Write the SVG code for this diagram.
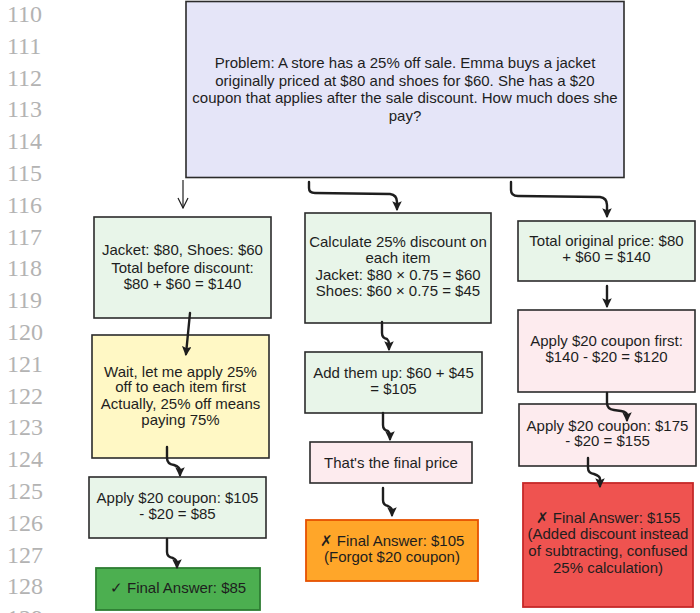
<svg xmlns="http://www.w3.org/2000/svg" width="700" height="613" viewBox="0 0 700 613">
<defs>
<marker id="ah" viewBox="0 0 10 10" refX="8" refY="5" markerWidth="4" markerHeight="4" orient="auto" markerUnits="strokeWidth">
<path d="M0,0 L10,5 L0,10 L2,5 Z" fill="#1e1e1e"/>
</marker>
<marker id="thin" viewBox="0 0 12 12" refX="11" refY="6" markerWidth="12" markerHeight="12" orient="auto" markerUnits="userSpaceOnUse">
<path d="M1,1 L11,6 L1,11" fill="none" stroke="#1e1e1e" stroke-width="1.2"/>
</marker>
</defs>
<style>
.ln{font-family:"Liberation Serif",serif;font-size:24px;fill:#b3b3b3}
.t{font-family:"Liberation Sans",Arial,sans-serif;font-size:15px;fill:#1e1e1e;text-anchor:middle}
.box{stroke:#2b2b2b;stroke-width:1.6}
.lav{fill:#e5e5f8}
.grn{fill:#e8f5e9}
.yel{fill:#fff8c5}
.pnk{fill:#fdebee}
.org{fill:#ffa629;stroke:#e65100;stroke-width:1.8}
.red{fill:#ef5350;stroke:#c62828;stroke-width:1.8}
.dgr{fill:#4caf50;stroke:#2e7d32;stroke-width:1.8}
.c{fill:none;stroke:#1e1e1e;stroke-width:2.4;stroke-linecap:round;stroke-linejoin:round}
</style>
<rect width="700" height="613" fill="#ffffff"/>
<g id="line-numbers">
<text class="ln" x="7" y="22">110</text>
<text class="ln" x="7" y="53.8">111</text>
<text class="ln" x="7" y="85.6">112</text>
<text class="ln" x="7" y="117.4">113</text>
<text class="ln" x="7" y="149.2">114</text>
<text class="ln" x="7" y="181">115</text>
<text class="ln" x="7" y="212.8">116</text>
<text class="ln" x="7" y="244.6">117</text>
<text class="ln" x="7" y="276.4">118</text>
<text class="ln" x="7" y="308.2">119</text>
<text class="ln" x="7" y="340">120</text>
<text class="ln" x="7" y="371.8">121</text>
<text class="ln" x="7" y="403.6">122</text>
<text class="ln" x="7" y="435.4">123</text>
<text class="ln" x="7" y="467.2">124</text>
<text class="ln" x="7" y="499">125</text>
<text class="ln" x="7" y="530.8">126</text>
<text class="ln" x="7" y="562.6">127</text>
<text class="ln" x="7" y="594.4">128</text>
<text class="ln" x="7" y="626.2">129</text>
</g>
<g id="problem">
<rect class="box lav" x="186" y="1.5" width="438" height="176"/>
<text class="t" x="405" y="68">Problem: A store has a 25% off sale. Emma buys a jacket</text>
<text class="t" x="405" y="85.5">originally priced at $80 and shoes for $60. She has a $20</text>
<text class="t" x="405" y="103">coupon that applies after the sale discount. How much does she</text>
<text class="t" x="405" y="120.5">pay?</text>
</g>
<g id="left-total">
<rect class="box grn" x="94" y="217" width="177" height="101"/>
<text class="t" x="182.5" y="255">Jacket: $80, Shoes: $60</text>
<text class="t" x="182.5" y="272.5">Total before discount:</text>
<text class="t" x="182.5" y="289">$80 + $60 = $140</text>
</g>
<g id="left-wait">
<rect class="box yel" x="92" y="335" width="177" height="123"/>
<text class="t" x="180.5" y="376.5">Wait, let me apply 25%</text>
<text class="t" x="180.5" y="392">off to each item first</text>
<text class="t" x="180.5" y="408.5">Actually, 25% off means</text>
<text class="t" x="180.5" y="424.5">paying 75%</text>
</g>
<g id="left-coupon">
<rect class="box grn" x="89" y="477" width="177" height="61"/>
<text class="t" x="177.5" y="502.5">Apply $20 coupon: $105</text>
<text class="t" x="177.5" y="518.5">- $20 = $85</text>
</g>
<g id="left-final">
<rect class="dgr" x="96" y="568" width="164" height="42"/>
<text class="t" x="178" y="593">✓ Final Answer: $85</text>
</g>
<g id="mid-calc">
<rect class="box grn" x="305" y="213" width="186" height="110"/>
<text class="t" x="398" y="246.5">Calculate 25% discount on</text>
<text class="t" x="398" y="263">each item</text>
<text class="t" x="398" y="279.5">Jacket: $80 × 0.75 = $60</text>
<text class="t" x="398" y="296">Shoes: $60 × 0.75 = $45</text>
</g>
<g id="mid-add">
<rect class="box grn" x="305" y="352" width="177" height="61"/>
<text class="t" x="393.5" y="377.5">Add them up: $60 + $45</text>
<text class="t" x="393.5" y="393.5">= $105</text>
</g>
<g id="mid-final-price">
<rect class="box pnk" x="310" y="442" width="162" height="41"/>
<text class="t" x="391" y="468">That's the final price</text>
</g>
<g id="mid-final">
<rect class="org" x="306" y="520" width="172" height="61"/>
<text class="t" x="392" y="545.5">✗ Final Answer: $105</text>
<text class="t" x="392" y="562">(Forgot $20 coupon)</text>
</g>
<g id="right-total">
<rect class="box grn" x="518" y="221" width="177" height="60"/>
<text class="t" x="606.5" y="245.5">Total original price: $80</text>
<text class="t" x="606.5" y="262">+ $60 = $140</text>
</g>
<g id="right-coupon-first">
<rect class="box pnk" x="518" y="310" width="177" height="82"/>
<text class="t" x="606.5" y="345.5">Apply $20 coupon first:</text>
<text class="t" x="606.5" y="361.5">$140 - $20 = $120</text>
</g>
<g id="right-coupon">
<rect class="box pnk" x="519" y="404" width="177" height="62"/>
<text class="t" x="607.5" y="430.5">Apply $20 coupon: $175</text>
<text class="t" x="607.5" y="446">- $20 = $155</text>
</g>
<g id="right-final">
<rect class="red" x="523" y="483" width="170" height="124"/>
<text class="t" x="608" y="522.5">✗ Final Answer: $155</text>
<text class="t" x="608" y="539">(Added discount instead</text>
<text class="t" x="608" y="555.5">of subtracting, confused</text>
<text class="t" x="608" y="572.5">25% calculation)</text>
</g>
<g id="connectors">
<path d="M183,180 L183,208" fill="none" stroke="#1e1e1e" stroke-width="1.2" marker-end="url(#thin)"/>
<path class="c" d="M309,182 L309,188 Q309,193 315,193 L390,194 Q397,195 397,202 L397,209" marker-end="url(#ah)"/>
<path class="c" d="M511,182 L511,190 Q511,196 518,196 L600,197 Q607,198 607,205 L607,216" marker-end="url(#ah)"/>
<path class="c" d="M607,286 L607,306" marker-end="url(#ah)"/>
<path class="c" d="M190,313 L186,354" stroke-width="2" marker-end="url(#ah)"/>
<path class="c" d="M167,447 L167,458 Q167,464 174,465 Q180,467 180,471 L180,475" marker-end="url(#ah)"/>
<path class="c" d="M167,539 L167,552 Q167,557 173,558 Q177,560 177,563 L177,567" marker-end="url(#ah)"/>
<path class="c" d="M382,322 L382,333 Q382,338 387,339 Q389,341 389,344 L389,349" marker-end="url(#ah)"/>
<path class="c" d="M383,413 L383,425 Q383,430 388,431 Q390,433 390,435 L390,439" marker-end="url(#ah)"/>
<path class="c" d="M383,488 L383,500 Q383,505 388,506 Q392,508 392,510 L392,515" marker-end="url(#ah)"/>
<path class="c" d="M607,393 L607,403 Q607,409 614,410 L621,411 Q627,412 627,415 L627,420" marker-end="url(#ah)"/>
<path class="c" d="M588,458 L588,468 Q588,473 594,474 Q600,476 600,479 L600,486" marker-end="url(#ah)"/>
</g>
</svg>
